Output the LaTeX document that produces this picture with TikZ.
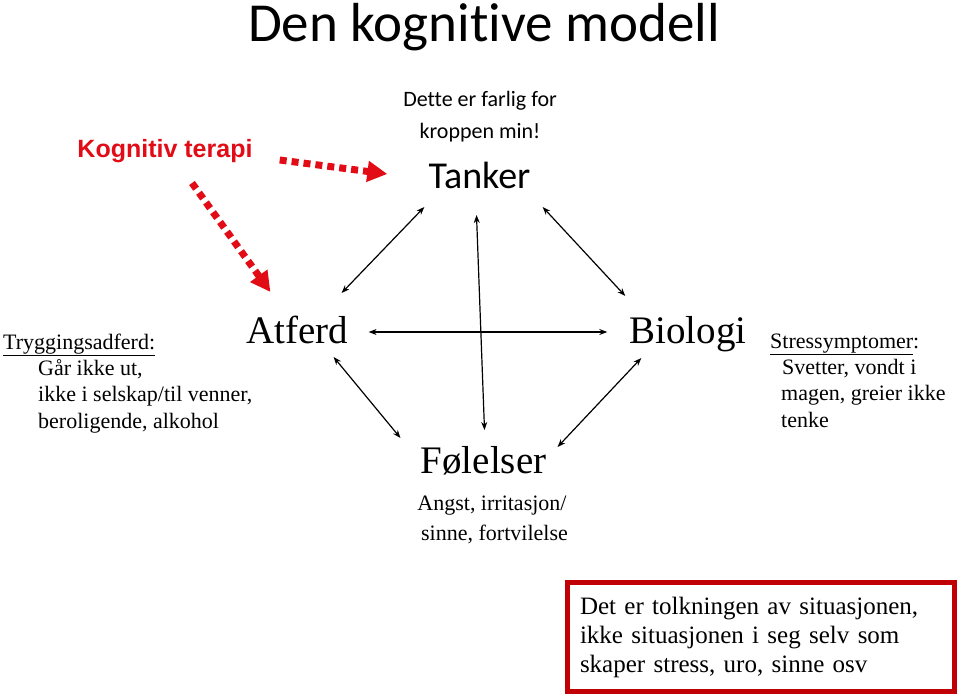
\documentclass[tikz,border=0pt]{standalone}
\usepackage{fontspec}
\setmainfont{Liberation Serif}
\newfontfamily\calibfont[Ligatures=NoCommon]{Carlito}
\newfontfamily\arialfont{Liberation Sans}
\usetikzlibrary{arrows.meta}
\definecolor{kogred}{RGB}{226,12,22}
\definecolor{boxred}{RGB}{192,0,4}

\begin{document}
\begin{tikzpicture}[x=1pt, y=-1pt,
    link/.style={{Stealth[length=8pt,width=6pt]}-{Stealth[length=8pt,width=6pt]}, line width=1.2pt},
    redlink/.style={kogred, line width=7pt, dash pattern=on 7pt off 5pt, -{Triangle[length=20pt,width=20pt]}},
    big/.style={inner sep=0pt, anchor=base, font=\fontsize{39}{44}\selectfont},
    small/.style={font=\fontsize{22}{26.3}\selectfont}]
    \useasboundingbox (0,0) rectangle (960,696);

% headings
    \node[anchor=base, font=\calibfont\fontsize{55}{60}\selectfont] (title) at (484,41) {Den kognitive modell};
    \node[anchor=base, inner sep=0pt, align=center, font=\calibfont\fontsize{22}{32}\selectfont] (danger) at (480,138) {Dette er farlig for\\kroppen min!};
    \node[anchor=base, inner sep=0pt, font=\calibfont\fontsize{38}{42}\selectfont] (tanker) at (479.5,188) {Tanker};
    \node[anchor=base, inner sep=0pt, text=kogred, font=\arialfont\bfseries\fontsize{25}{30}\selectfont] (kog) at (165,157) {Kognitiv terapi};

% the four corners
    \node[big] (atferd) at (297.5,343) {Atferd};
    \node[big] (biologi) at (688,343) {Biologi};
    \node[big] (folelser) at (483.5,473) {Følelser};

% side texts
    \node[small, anchor=base, inner sep=0pt, align=center, font=\fontsize{22}{30}\selectfont] (feelings) at (492,540) {Angst, irritasjon/\\\hspace*{5pt}sinne, fortvilelse};
    \node[small, anchor=base west, inner sep=0pt, align=left] (trygg) at (3,428) {\underline{Tryggingsadferd:}\\\hspace*{35pt}Går ikke ut,\\\hspace*{35pt}ikke i selskap/til venner,\\\hspace*{35pt}beroligende, alkohol};
    \node[small, anchor=base west, inner sep=0pt, align=left] (stress) at (770,427) {\underline{Stressymptomer}:\\\hspace*{12pt}Svetter, vondt i\\\hspace*{11pt}magen, greier ikke\\\hspace*{11pt}tenke};

% message box
    \node[draw=boxred, line width=5pt, minimum width=387pt, minimum height=109pt, text width=362pt,
        inner xsep=12.5pt, align=left, font=\fontsize{25}{29}\selectfont] (msg) at (761,637)
        {Det er tolkningen av situasjonen,\\ikke situasjonen i seg selv som\\skaper stress, uro, sinne osv};

% arrows
    \draw[link] ([shift={(-7,-50)}]atferd.base east) -- ([shift={(-4,19)}]tanker.base west);
    \draw[link] ([shift={(12,19)}]tanker.base east) -- ([shift={(-4,-47)}]biologi.base west);
    \draw[link] ([shift={(20,-11)}]atferd.base east) -- ([shift={(-22,-11)}]biologi.base west);
    \draw[link] ([shift={(-3,27)}]tanker.base) -- ([shift={(1,-43)}]folelser.base);
    \draw[link] ([shift={(-15,14)}]atferd.base east) -- ([shift={(-20,-35)}]folelser.base west);
    \draw[link] ([shift={(12,15)}]biologi.base west) -- ([shift={(11,-26)}]folelser.base east);

    \draw[redlink] ([shift={(27,3)}]kog.base east) -- ([shift={(-41,-14)}]tanker.base west);
    \draw[redlink] ([shift={(27,26)}]kog.base) -- ([shift={(24,-51)}]atferd.base west);

\end{tikzpicture}
\end{document}
